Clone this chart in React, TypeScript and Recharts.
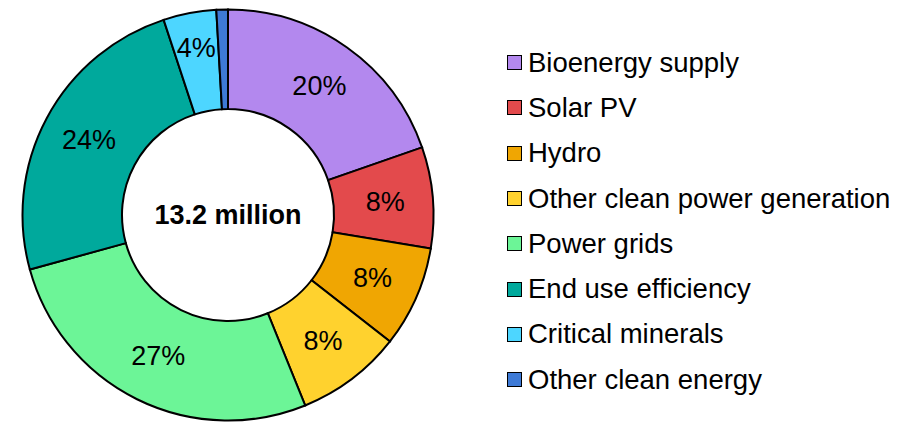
import { PieChart, Pie, Cell, Legend } from "recharts"

const categories = [
  "Bioenergy supply",
  "Solar PV",
  "Hydro",
  "Other clean power generation",
  "Power grids",
  "End use efficiency",
  "Critical minerals",
  "Other clean energy",
]

// millions
const values = [2.6, 1.05, 1.05, 1.1, 3.55, 3.2, 0.55, 0.12]

const colors = ["#B388EE", "#E34A4C", "#F0A602", "#FFD22E", "#6CF597", "#00A99C", "#4DD6FF", "#3E7AD6"]

const data = categories.map((name, i) => ({ name, value: values[i] }))
const total = values.reduce((a, b) => a + b, 0)

const FONT = "Arial, 'Liberation Sans', sans-serif"
const RAD = Math.PI / 180
const CX = 228
const CY = 215

const renderLabel = (props: any) => {
  const { cx, cy, midAngle, innerRadius, outerRadius, percent } = props
  if (percent < 0.02) return null
  // thin slices get their label pushed a bit outward, like the original
  const r = percent < 0.05 ? outerRadius - 36 : (innerRadius + outerRadius) / 2 + 2
  const x = cx + r * Math.cos(-midAngle * RAD)
  const y = cy + r * Math.sin(-midAngle * RAD)
  return (
    <text x={x} y={y} textAnchor="middle" dominantBaseline="central" fill="#000" fontSize={27} fontFamily={FONT}>
      {`${Math.round(percent * 100)}%`}
    </text>
  )
}

const renderLegend = () => (
  <div style={{ fontFamily: FONT, fontSize: 27.5, color: "#000" }}>
    {categories.map((name, i) => (
      <div key={name} style={{ display: "flex", alignItems: "center", height: 45.3, whiteSpace: "nowrap" }}>
        <span
          style={{
            display: "inline-block",
            width: 13,
            height: 13,
            background: colors[i],
            border: "1.5px solid #000",
            marginRight: 6,
          }}
        />
        <span>{name}</span>
      </div>
    ))}
  </div>
)

export default function App() {
  return (
    <div style={{ width: 913, height: 422, background: "#fff" }}>
      <style>{`body{margin:0}`}</style>
      <PieChart width={913} height={422} margin={{ top: 0, right: 0, bottom: 0, left: 0 }}>
        <Pie
          data={data}
          dataKey="value"
          nameKey="name"
          cx={CX}
          cy={CY}
          innerRadius={106}
          outerRadius={205.5}
          startAngle={90}
          endAngle={-270}
          stroke="#000"
          strokeWidth={2}
          label={renderLabel}
          labelLine={false}
          isAnimationActive={false}
        >
          {data.map((d, i) => (
            <Cell key={d.name} fill={colors[i]} />
          ))}
        </Pie>
        <text
          x={CX}
          y={CY}
          textAnchor="middle"
          dominantBaseline="central"
          fill="#000"
          fontSize={27}
          fontWeight="bold"
          fontFamily={FONT}
        >
          {`${total.toFixed(1)} million`}
        </text>
        <Legend
          content={renderLegend}
          layout="vertical"
          wrapperStyle={{ position: "absolute", left: 507, top: 40, width: 406 }}
        />
      </PieChart>
    </div>
  )
}
